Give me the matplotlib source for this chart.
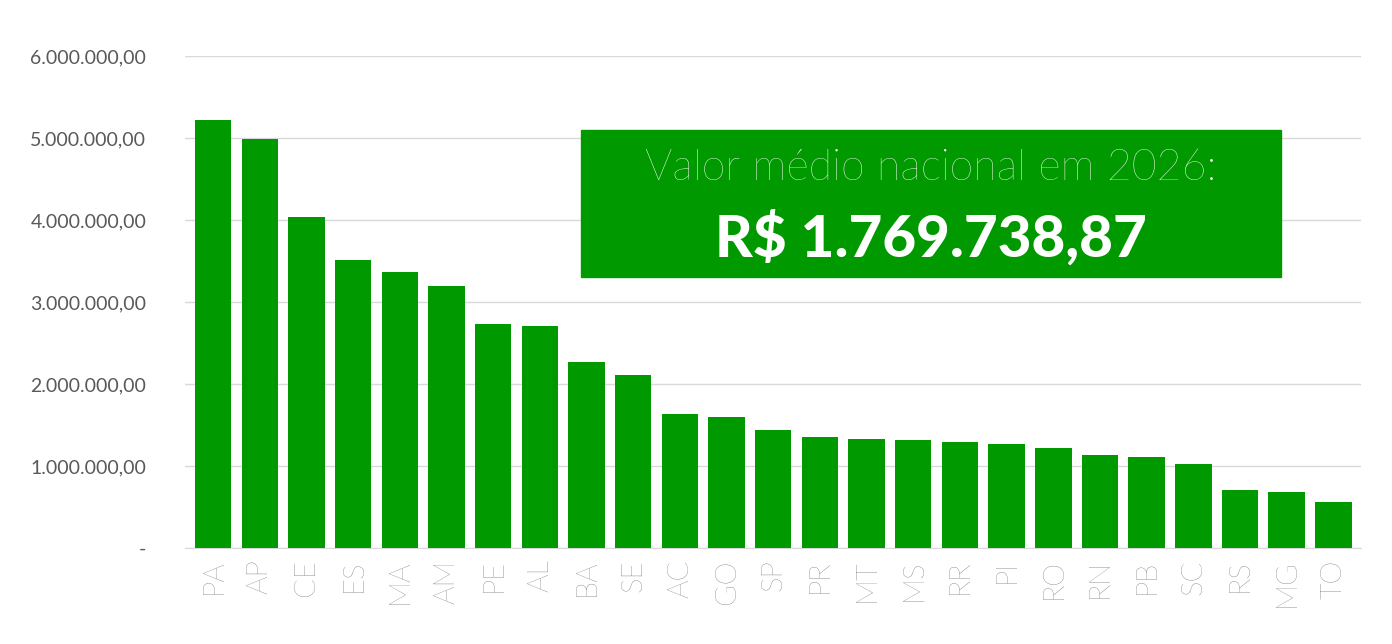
import matplotlib.pyplot as plt
from matplotlib.ticker import FuncFormatter

states = ["PA", "AP", "CE", "ES", "MA", "AM", "PE", "AL", "BA", "SE", "AC", "GO", "SP",
          "PR", "MT", "MS", "RR", "PI", "RO", "RN", "PB", "SC", "RS", "MG", "TO"]
values = [5.22, 4.99, 4.04, 3.51, 3.37, 3.20, 2.73, 2.71, 2.27, 2.11, 1.63, 1.60, 1.44,
          1.35, 1.33, 1.32, 1.29, 1.27, 1.22, 1.13, 1.11, 1.02, 0.71, 0.68, 0.56]
values = [v * 1e6 for v in values]
GREEN = "#009a00"

plt.rcParams['font.family'] = ['Lato', 'DejaVu Sans']

fig = plt.figure(figsize=(13.92, 6.44), dpi=100)
ax = fig.add_axes([0.133, 0.149, 0.845, 0.764])

ax.bar(range(len(states)), values, width=0.78, color=GREEN, zorder=3)
ax.set_xlim(-0.6, len(states) - 0.4)
ax.set_ylim(0, 6e6)
ax.set_yticks([i * 1e6 for i in range(7)])


def fmt(v, pos):
    if v == 0:
        return "-"
    return f"{v:,.2f}".replace(",", "X").replace(".", ",").replace("X", ".")


ax.yaxis.set_major_formatter(FuncFormatter(fmt))
ax.tick_params(axis="y", length=0, labelsize=14, labelcolor="#595959", pad=28)
ax.set_xticks(range(len(states)))
ax.set_xticklabels(states, rotation=90, fontsize=21, color="#595959", fontweight="light")
ax.tick_params(axis="x", length=0, pad=8)
ax.grid(axis="y", color="#d9d9d9", linewidth=1, zorder=0)
for s in ["top", "right", "left"]:
    ax.spines[s].set_visible(False)
ax.spines["bottom"].set_color("#d9d9d9")

# annotation box
fig.patches.append(plt.Rectangle((581 / 1392, 1 - 277 / 644), 700 / 1392, 147 / 644,
                                 transform=fig.transFigure, color=GREEN, zorder=5))
fig.text(931 / 1392, 1 - 168 / 644, "Valor médio nacional em 2026:", color="white",
         fontsize=31, fontweight="light", ha="center", va="center", zorder=6)
fig.text(931 / 1392, 1 - 238 / 644, "R$ 1.769.738,87", color="white",
         fontsize=42, fontweight="black", ha="center", va="center", zorder=6)

fig.savefig("out.png", dpi=100)
